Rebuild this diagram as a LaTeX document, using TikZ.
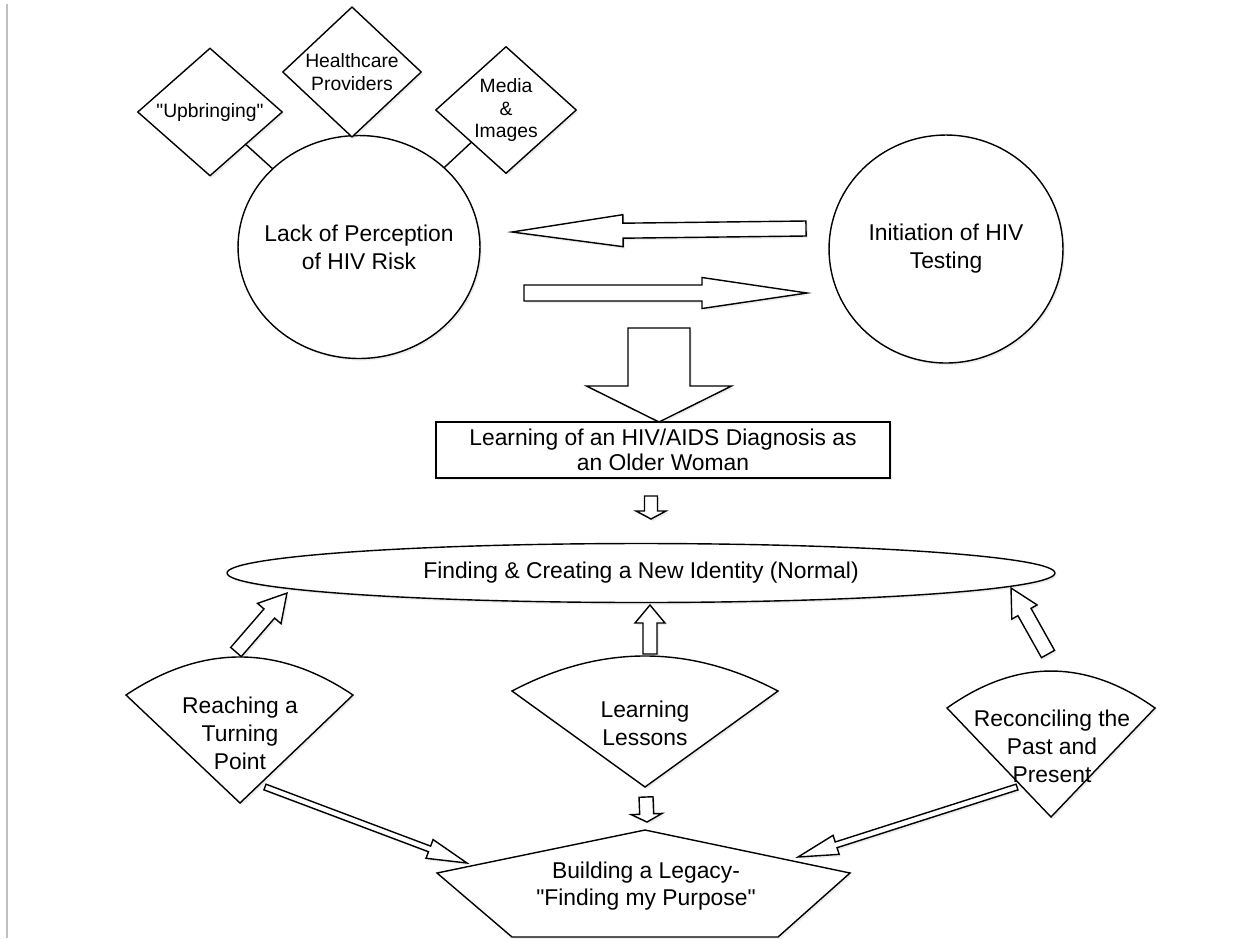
\documentclass[tikz,border=0pt]{standalone}
\usepackage{fontspec}
\setmainfont{Liberation Sans}
\usetikzlibrary{positioning,calc,shapes.geometric,shadows}

\tikzset{
  fat/.style n args={3}{to path={let \p1=($(\tikztotarget)-(\tikztostart)$), \n1={atan2(\y1,\x1)}, \n2={veclen(\x1,\y1)} in
    [shift={(\tikztostart)},rotate=\n1] (0pt,#1)--({\n2*1pt-#3},#1)--({\n2*1pt-#3},#2)--({\n2*1pt},0pt)--({\n2*1pt-#3},-#2)--({\n2*1pt-#3},-#1)--(0pt,-#1)--cycle}},
  soft/.style={drop shadow={opacity=0.15,shadow xshift=1pt,shadow yshift=-1.2pt}},
}

\begin{document}
\begin{tikzpicture}[x=0.02cm,y=-0.02cm,line width=0.8pt,font=\fontsize{13}{16}\selectfont]
		\useasboundingbox (0,0) rectangle (1250,938);
		\draw[gray!50,line width=1.2pt] (7,4)--(7,938);

		\node[ellipse,draw=black,fill=white,soft,inner sep=0pt,minimum width=4.84cm,minimum height=4.46cm] (c1) at (359,247) {};
		\node[align=center] (c1t) at (c1) {Lack of Perception\\of HIV Risk};
		\node[ellipse,draw=black,fill=white,soft,inner sep=0pt,minimum width=4.68cm,minimum height=4.56cm] (c2) at (946,249) {};
		\node[align=center] (c2t) at (c2) {Initiation of HIV\\Testing};

		\node[diamond,draw=black,fill=white,soft,inner sep=0pt,minimum width=2.9cm,minimum height=2.56cm,font=\fontsize{11}{13}\selectfont] (d1) at (210,112) {\textquotedbl Upbringing\textquotedbl};
		\node[diamond,draw=black,fill=white,soft,inner sep=0pt,minimum width=2.78cm,minimum height=2.6cm,align=center,font=\fontsize{11}{13}\selectfont] (d2) at (352,72) {Healthcare\\Providers};
		\node[diamond,draw=black,fill=white,soft,inner sep=0pt,minimum width=2.82cm,minimum height=2.46cm,align=center,font=\fontsize{11}{13}\selectfont] (d3) at (506,110) {Media\\\&\\Images};
		\draw (d1)--(c1);
		\draw (d3)--(c1);

		\node[draw=black,fill=white,soft,minimum width=9.08cm,minimum height=1.12cm,align=center,font=\fontsize{13}{14.5}\selectfont] (r1) at (663,450) {Learning of an HIV/AIDS Diagnosis as\\an Older Woman};
		\node[ellipse,draw=black,fill=white,soft,inner sep=0pt,minimum width=16.56cm,minimum height=1.18cm] (e1) at (641,573) {Finding \& Creating a New Identity (Normal)};

		% wedges and the legacy box
		\draw[fill=white,soft] (126,695) .. controls (202,644.3) and (277.7,644.3) .. (353,695) -- (240,803) -- cycle;
		\draw[fill=white,soft] (512,691) .. controls (600.7,644.3) and (689.3,644.3) .. (778,691) -- (645,787) -- cycle;
		\draw[fill=white,soft] (947,708) .. controls (1016.3,658.7) and (1085.7,658.7) .. (1155,708) -- (1051,817) -- cycle;
		\draw[fill=white,soft] (645,830) -- (850,873) -- (778,937) -- (512,937) -- (437,873) -- cycle;
		\node[align=center] (t1) at (240,733) {Reaching a\\Turning\\Point};
		\node[align=center] (t2) at (645,723) {Learning\\Lessons};
		\node[align=center] (t3) at (1052,746) {Reconciling the\\Past and\\Present};
		\node[align=center,font=\fontsize{13}{15.5}\selectfont] (p1) at (646,886) {Building a Legacy-\\\textquotedbl Finding my Purpose\textquotedbl};

		% arrow ends
		\coordinate (a1) at (806,228.5);
		\coordinate (a2) at (512,232);
		\coordinate (a3) at (524,293);
		\coordinate (a4) at (807,293);
		\coordinate (a5) at (659,328);
		\coordinate (a6) at (659,422);
		\coordinate (a7) at (651,496);
		\coordinate (a8) at (651,519);
		\coordinate (a9) at (650,654);
		\coordinate (a10) at (650,605);
		\coordinate (a11) at (236,652);
		\coordinate (a12) at (287,593);
		\coordinate (a13) at (1048,654);
		\coordinate (a14) at (1011,588);
		\coordinate (a15) at (646,797);
		\coordinate (a16) at (647,822);
		\coordinate (a17) at (265,787);
		\coordinate (a18) at (467,863);
		\coordinate (a19) at (1017,787);
		\coordinate (a20) at (798,857);

		\draw[fill=white,soft,fat={0.15cm}{0.32cm}{2.22cm}] (a1) to (a2);
		\draw[fill=white,soft,fat={0.16cm}{0.31cm}{2.1cm}] (a3) to (a4);
		\draw[fill=white,soft,fat={0.62cm}{1.45cm}{0.72cm}] (a5) to (a6);
		\draw[fill=white,soft,fat={0.13cm}{0.3cm}{0.16cm}] (a7) to (a8);
		\draw[fill=white,soft,fat={0.14cm}{0.3cm}{0.36cm}] (a9) to (a10);
		\draw[fill=white,soft,fat={0.14cm}{0.31cm}{0.54cm}] (a11) to (a12);
		\draw[fill=white,soft,fat={0.15cm}{0.29cm}{0.55cm}] (a13) to (a14);
		\draw[fill=white,soft,fat={0.14cm}{0.31cm}{0.16cm}] (a15) to (a16);
		\draw[fill=white,soft,fat={0.06cm}{0.2cm}{0.8cm}] (a17) to (a18);
		\draw[fill=white,soft,fat={0.06cm}{0.2cm}{0.8cm}] (a19) to (a20);
	\end{tikzpicture}
\end{document}
